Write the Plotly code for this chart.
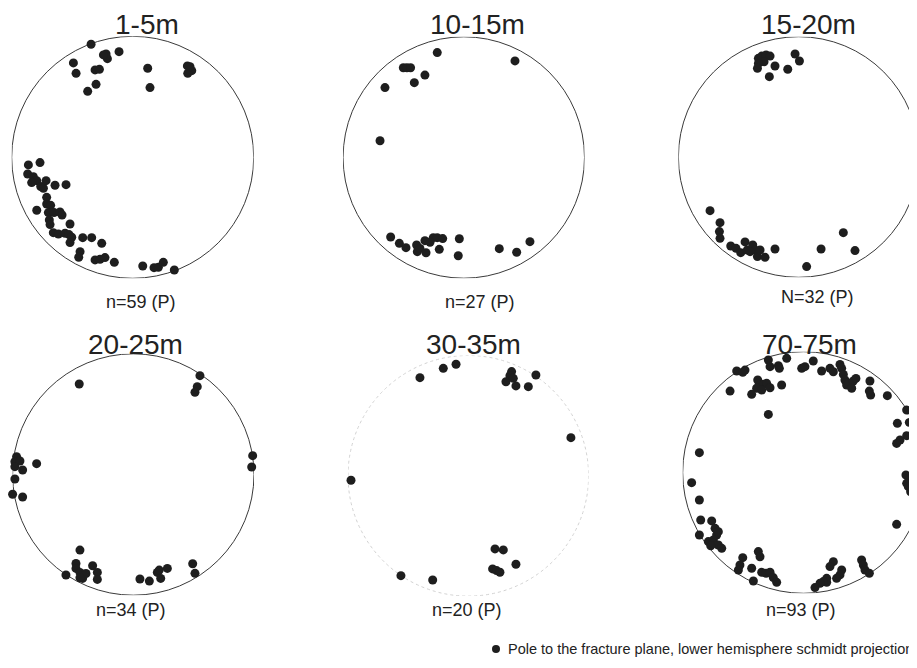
import numpy as np
import plotly.graph_objects as go

W, H = 917, 668

titles = ["1-5m", "10-15m", "15-20m", "20-25m", "30-35m", "70-75m"]
counts = ["n=59 (P)", "n=27 (P)", "N=32 (P)", "n=34 (P)", "n=20 (P)", "n=93 (P)"]
legend_label = "Pole to the fracture plane, lower hemisphere schmidt projection"

# Poles, projected coordinates on the unit net (x east, y north)
p1_x = [-0.344, -0.220, -0.209, -0.113, -0.490, -0.468, -0.311, -0.275, -0.303, -0.372,
        0.124, 0.143, 0.452, 0.488, 0.455, -0.242, 0.474,
        -0.766, -0.862, -0.868, -0.821, -0.793, -0.835, -0.760, -0.738, -0.716, -0.642,
        -0.551, -0.711, -0.793, -0.711, -0.678, -0.697, -0.650, -0.601, -0.584, -0.689,
        -0.683, -0.518, -0.656, -0.614, -0.559, -0.526, -0.504, -0.518, -0.413, -0.339,
        -0.256, -0.435, -0.446, -0.311, -0.270, -0.229, -0.152, 0.083, 0.176, 0.212,
        0.253, 0.344]
p1_y = [0.934, 0.854, 0.815, 0.873, 0.780, 0.694, 0.722, 0.727, 0.603, 0.545,
        0.736, 0.576, 0.755, 0.716, 0.694, 0.846, 0.749,
        -0.044, -0.063, -0.138, -0.160, -0.193, -0.209, -0.242, -0.256, -0.193, -0.231,
        -0.226, -0.331, -0.438, -0.386, -0.397, -0.457, -0.457, -0.452, -0.477, -0.518,
        -0.556, -0.551, -0.623, -0.634, -0.628, -0.639, -0.661, -0.705, -0.664, -0.664,
        -0.711, -0.780, -0.826, -0.848, -0.843, -0.829, -0.868, -0.898, -0.912, -0.909,
        -0.868, -0.931]

p2_x = [-0.220, 0.424, -0.501, -0.471, -0.441, -0.322, -0.410, -0.653, -0.694,
        -0.606, -0.534, -0.479, -0.391, -0.385, -0.363, -0.322, -0.313, -0.253, -0.220,
        -0.175, -0.203, -0.037, -0.046, 0.294, 0.438, 0.548, -0.280]
p2_y = [0.869, 0.800, 0.744, 0.744, 0.744, 0.683, 0.620, 0.579, 0.139,
        -0.659, -0.711, -0.747, -0.725, -0.780, -0.753, -0.689, -0.789, -0.664, -0.664,
        -0.672, -0.761, -0.673, -0.814, -0.755, -0.785, -0.697, -0.702]

p3_x = [-0.335, -0.307, -0.271, -0.238, -0.288, -0.335, -0.197, -0.343, -0.244, -0.091,
        -0.030, 0.006,
        -0.737, -0.654, -0.659, -0.654, -0.565, -0.521, -0.482, -0.446, -0.427, -0.382,
        -0.363, -0.343, -0.321, -0.280, -0.197, 0.066, 0.186, 0.371, 0.468, -0.404]
p3_y = [0.820, 0.839, 0.848, 0.839, 0.792, 0.778, 0.756, 0.737, 0.668, 0.729,
        0.856, 0.798,
        -0.446, -0.546, -0.620, -0.676, -0.740, -0.759, -0.795, -0.706, -0.773, -0.731,
        -0.773, -0.828, -0.773, -0.834, -0.765, -0.911, -0.765, -0.629, -0.778, -0.787]

p4_x = [-0.448, 0.552, 0.530, 0.511, -0.967, -0.981, -0.939, -0.981, -0.917, -0.981,
        -1.000, -0.917, -0.801, 0.989, 0.981, -0.442, -0.475, -0.475, -0.442, -0.420,
        -0.392, -0.337, -0.298, -0.298, -0.558, 0.055, 0.133, 0.199, 0.227, 0.215,
        0.282, 0.492, 0.511, -0.442]
p4_y = [0.750, 0.819, 0.728, 0.681, 0.148, 0.106, 0.112, 0.065, 0.037, -0.037,
        -0.164, -0.186, 0.090, 0.156, 0.062, -0.626, -0.737, -0.778, -0.811, -0.861,
        -0.820, -0.756, -0.811, -0.869, -0.833, -0.866, -0.883, -0.811, -0.861, -0.792,
        -0.778, -0.739, -0.819, -0.855]

p5_x = [-0.402, -0.208, -0.102, 0.360, 0.346, 0.313, 0.374, 0.396, 0.562, 0.499,
        0.853, -0.975, 0.222, 0.291, 0.396, 0.202, 0.235, 0.263, -0.560, -0.296]
p5_y = [0.816, 0.893, 0.927, 0.866, 0.832, 0.782, 0.810, 0.747, 0.838, 0.741,
        0.317, -0.037, -0.608, -0.616, -0.735, -0.774, -0.788, -0.802, -0.830, -0.866]

p6_x = [-0.553, -0.484, -0.503, -0.291, -0.139, -0.277, -0.208, -0.200, -0.379, -0.360,
        -0.332, -0.305, -0.388, -0.429, -0.346, -0.277, -0.181, -0.608, -0.291,
        -0.015, 0.012, 0.081, 0.150, 0.219, 0.247, 0.302, 0.316, 0.330, 0.343,
        0.357, 0.371, 0.412, 0.434, 0.399, 0.550, 0.545, 0.556, 0.694, 0.854,
        0.777, 0.876, 0.854, 0.799, 0.771,
        0.848, 0.876, 0.854, 0.903, 0.868, 0.887, 0.923, 0.771,
        -0.862, -0.926, -0.862, -0.851, -0.760, -0.719, -0.732, -0.705, -0.862, -0.788,
        -0.746, -0.746, -0.705, -0.677, -0.768,
        -0.503, -0.526, -0.539, -0.429, -0.374, -0.360, -0.346, -0.310, -0.277, -0.250,
        -0.222, -0.415,
        0.247, 0.219, 0.316, 0.302, 0.274, 0.192, 0.192, 0.164, 0.137, 0.095,
        0.481, 0.495, 0.509, 0.545]
p6_y = [0.840, 0.848, 0.829, 0.931, 0.945, 0.876, 0.884, 0.862, 0.766, 0.724,
        0.730, 0.738, 0.697, 0.647, 0.683, 0.702, 0.724, 0.674, 0.481,
        0.862, 0.876, 0.923, 0.840, 0.862, 0.834, 0.895, 0.862, 0.812, 0.766,
        0.724, 0.738, 0.757, 0.779, 0.697, 0.757, 0.674, 0.641, 0.636, 0.517,
        0.407, 0.415, 0.305, 0.269, 0.241,
        -0.021, -0.054, -0.090, -0.076, -0.117, -0.159, -0.186, -0.429,
        0.164, -0.084, -0.228, -0.393, -0.401, -0.517, -0.462, -0.490, -0.517, -0.572,
        -0.559, -0.586, -0.600, -0.628, -0.606,
        -0.705, -0.766, -0.807, -0.793, -0.655, -0.697, -0.826, -0.834, -0.826, -0.870,
        -0.909, -0.898,
        -0.738, -0.779, -0.807, -0.848, -0.876, -0.876, -0.909, -0.903, -0.917, -0.953,
        -0.724, -0.766, -0.807, -0.834]

xs = [p1_x, p2_x, p3_x, p4_x, p5_x, p6_x]
ys = [p1_y, p2_y, p3_y, p4_y, p5_y, p6_y]

# page offset of the figure inside the browser (default body margin)
OFF = 8
# panel geometry in screen pixels: centre x, centre y, radius
geom = [(132.7, 157.3, 121.0), (463.8, 157.5, 120.7), (798.7, 157.0, 120.3),
        (133.3, 474.5, 120.7), (468.3, 475.8, 120.3), (803.5, 472.5, 120.8)]
title_x = [147, 478, 808, 135, 473, 809]
title_row2_y = 344
count_pos = [(141, 302), (480, 302), (817, 297), (131, 610), (467, 610), (801, 610)]
legend_dot = (496, 649)
legend_text_x = 506

FONT = "Liberation Sans, Arial"
DOT = "#1e1e1e"
fig = go.Figure()
layout = dict(width=W, height=H, margin=dict(l=0, r=0, t=0, b=0),
              plot_bgcolor="white", paper_bgcolor="white", showlegend=False)


def px_x(x):
    return (x - OFF) / W


def px_y(y):
    return 1 - (y - OFF) / H


shapes, annotations = [], []
for i in range(6):
    cx, cy, r = geom[i]
    cx -= OFF
    cy -= OFF
    right = min(W, cx + r)
    ax = "" if i == 0 else str(i + 1)
    layout["xaxis" + ax] = dict(domain=[(cx - r) / W, right / W], range=[-1, (right - cx) / r],
                                visible=False, fixedrange=True)
    layout["yaxis" + ax] = dict(domain=[(H - cy - r) / H, (H - cy + r) / H], range=[-1, 1],
                                visible=False, fixedrange=True)
    if i == 4:
        line = dict(color="#d2d2d2", width=1, dash="dot")
    else:
        line = dict(color="#3a3a3a", width=1)
    shapes.append(dict(type="circle", xref="x" + ax, yref="y" + ax, x0=-1, x1=1, y0=-1, y1=1,
                       line=line, layer="below"))
    fig.add_trace(go.Scatter(x=xs[i], y=ys[i], mode="markers", xaxis="x" + ax, yaxis="y" + ax,
                             marker=dict(size=9, color=DOT), cliponaxis=False,
                             name=legend_label, hoverinfo="skip"))
    if i < 3:
        ty, yanc = 1.0, "top"
    else:
        ty, yanc = px_y(title_row2_y), "middle"
    annotations.append(dict(text=titles[i], x=px_x(title_x[i]), y=ty, xref="paper", yref="paper",
                            showarrow=False, xanchor="center", yanchor=yanc, borderpad=0,
                            font=dict(family=FONT, size=28, color="#222")))
    nx, ny = count_pos[i]
    annotations.append(dict(text=counts[i], x=px_x(nx), y=px_y(ny), xref="paper", yref="paper",
                            showarrow=False, xanchor="center", yanchor="middle",
                            font=dict(family=FONT, size=18, color="#222")))

# legend key: dot + label
lx, ly = legend_dot
shapes.append(dict(type="circle", xref="paper", yref="paper", xsizemode="pixel", ysizemode="pixel",
                   xanchor=px_x(lx), yanchor=px_y(ly), x0=-4, x1=4, y0=-4, y1=4,
                   fillcolor=DOT, line=dict(width=0)))
annotations.append(dict(text=legend_label, x=px_x(legend_text_x), y=px_y(ly), xref="paper",
                        yref="paper", showarrow=False, xanchor="left", yanchor="middle",
                        font=dict(family=FONT, size=14.5, color="#222")))

layout["shapes"] = shapes
layout["annotations"] = annotations
fig.update_layout(**layout)
fig.write_html("out.html")
